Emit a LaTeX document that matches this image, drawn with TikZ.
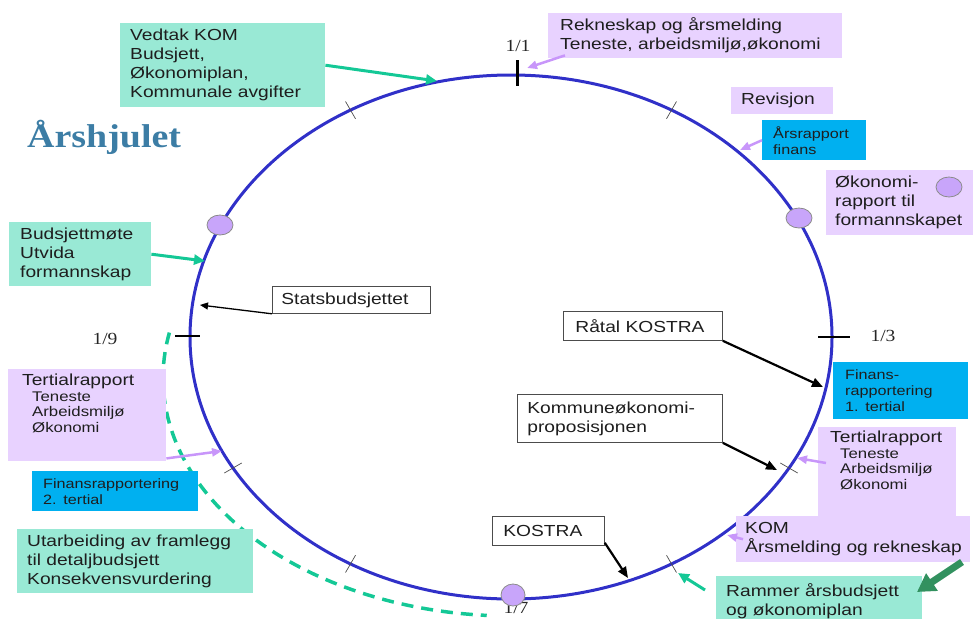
\documentclass[tikz,border=0pt]{standalone}
\usepackage{fontspec}
\usetikzlibrary{arrows.meta}
\newfontfamily\boxfont{Liberation Sans}[FakeStretch=1.2]
\newfontfamily\datefont{Liberation Serif}[FakeStretch=1.15]
\definecolor{mint}{RGB}{153,233,213}
\definecolor{lilac}{RGB}{232,210,255}
\definecolor{sky}{RGB}{0,176,240}
\definecolor{ring}{RGB}{48,48,200}
\definecolor{tealar}{RGB}{20,200,150}
\definecolor{lilacar}{RGB}{200,150,250}
\definecolor{deepgreen}{RGB}{50,145,95}
\definecolor{titleblue}{RGB}{60,125,165}
\definecolor{markfill}{RGB}{200,165,250}
\definecolor{txt}{RGB}{30,30,30}
\hyphenpenalty=10000
\exhyphenpenalty=10000
\begin{document}
\begin{tikzpicture}[x=1pt,y=-1pt,
  box/.style={anchor=north west, inner ysep=0pt, align=left, text=txt,
    font=\boxfont\fontsize{16}{19}\selectfont},
  mintbox/.style={box, fill=mint},
  lilacbox/.style={box, fill=lilac},
  skybox/.style={box, fill=sky, font=\boxfont\fontsize{13.5}{16}\selectfont},
  plainbox/.style={box, fill=white, draw=black!70, line width=0.8pt},
  datelabel/.style={inner sep=0pt, text=black!85, font=\datefont\fontsize{17}{17}\selectfont},
  tealarrow/.style={draw=tealar, line width=3pt, -{Triangle[length=11pt,width=10pt]}},
  lilacarrow/.style={draw=lilacar, line width=2.5pt, -{Triangle[length=10pt,width=8pt]}},
  blackarrow/.style={draw=black, line width=2.2pt, -{Triangle[length=11pt,width=9pt]}},
  thinarrow/.style={draw=black, line width=1.3pt, -{Triangle[length=8pt,width=7pt]}},
  marker/.style={fill=markfill, draw=black!45, line width=0.8pt},
  monthtick/.style={draw=black!70, line width=0.7pt},
  datetick/.style={draw=black, line width=3pt},
]
\useasboundingbox (0,0) rectangle (973,618);
\clip (0,0) rectangle (973,618);

% budget preparation period, dashed
\draw[tealar, line width=3.5pt, dash pattern=on 12pt off 8pt]
  plot[domain=169:266, samples=80] ({511+348*cos(\x)},{378-238*sin(\x)});

% the year wheel
\draw[ring, line width=3pt] (511,337) ellipse [x radius=321pt, y radius=262pt];
\foreach \a in {60,120,210,240,300,330}
  \draw[monthtick] ({511+311*cos(\a)},{337-252*sin(\a)}) -- ({511+331*cos(\a)},{337-272*sin(\a)});

% quarter dates
\draw[datetick] (517,60) -- (517,86);
\draw[datetick, line width=2.5pt] (818,337) -- (850,337);
\draw[datetick, line width=2.5pt] (175,336) -- (200,336);
\node[datelabel] (d1) at (518,46) {1/1};
\node[datelabel] (d3) at (883,336) {1/3};
\node[datelabel] (d9) at (105,339) {1/9};
\node[datelabel] (d7) at (516,608) {1/7};

% title
\node[anchor=base west, inner sep=0pt, text=titleblue,
  font=\datefont\bfseries\fontsize{33}{33}\selectfont] (title) at (27,147) {Årshjulet};

% boxes
\node[mintbox, minimum height=84pt, text width=185pt, inner xsep=10pt] (vedtak) at (120,23)
  {Vedtak KOM\\Budsjett,\\Økonomiplan,\\Kommunale avgifter};
\node[lilacbox, minimum height=45pt, text width=270pt, inner xsep=12pt] (rekneskap) at (548,13)
  {Rekneskap og årsmelding\\Teneste, arbeidsmiljø,økonomi};
\node[lilacbox, minimum height=27pt, text width=82pt, inner xsep=10pt] (revisjon) at (731,87)
  {Revisjon};
\node[skybox, minimum height=40pt, text width=82pt, inner xsep=11pt] (arsrapport) at (762,120)
  {Årsrapport\\finans};
\node[lilacbox, minimum height=65pt, text width=129pt, inner xsep=9pt] (okorapport) at (826,170)
  {Økonomi-\\rapport til\\formannskapet};
\node[mintbox, minimum height=64pt, text width=120pt, inner xsep=11pt] (budsjett) at (9,222)
  {Budsjettmøte\\Utvida\\formannskap};
\node[plainbox, minimum height=27pt, text width=140pt, inner xsep=9pt] (stats) at (272,286)
  {Statsbudsjettet};
\node[lilacbox, minimum height=92pt, text width=130pt, inner xsep=14pt] (tertL) at (8,369)
  {{\fontsize{16}{18}\selectfont Tertialrapport\par}
   {\fontsize{14}{15.5}\selectfont\leftskip=10pt Teneste\\Arbeidsmiljø\\Økonomi\rule[-24pt]{0pt}{0pt}\par}};
\node[skybox, minimum height=40pt, text width=144pt, inner xsep=11pt] (finans2) at (32,471)
  {Finansrapportering\\2. tertial};
\node[mintbox, minimum height=64pt, text width=216pt, inner xsep=10pt] (utarb) at (17,529)
  {Utarbeiding av framlegg\\til detaljbudsjett\\Konsekvensvurdering};
\node[plainbox, minimum height=29pt, text width=135pt, inner xsep=12pt] (ratal) at (563,311)
  {Råtal KOSTRA};
\node[skybox, minimum height=57pt, text width=111pt, inner xsep=12pt] (finans1) at (833,362)
  {Finans-\\rapportering\\1. tertial};
\node[plainbox, minimum height=48pt, text width=185pt, inner xsep=10pt] (kommune) at (517,394)
  {Kommuneøkonomi-\\proposisjonen};
\node[lilacbox, minimum height=90pt, text width=114pt, inner xsep=12pt] (tertR) at (818,427)
  {{\fontsize{16}{18}\selectfont Tertialrapport\par}
   {\fontsize{14}{15.5}\selectfont\leftskip=10pt Teneste\\Arbeidsmiljø\\Økonomi\rule[-24pt]{0pt}{0pt}\par}};
\node[plainbox, minimum height=29pt, text width=90pt, inner xsep=11pt] (kostra) at (492,516)
  {KOSTRA};
\node[lilacbox, minimum height=46pt, text width=216pt, inner xsep=9pt] (kom) at (736,516)
  {KOM\\\mbox{Årsmelding og rekneskap}};
\node[mintbox, minimum height=50pt, text width=186pt, inner xsep=10pt] (rammer) at (716,576)
  {Rammer årsbudsjett\\og økonomiplan};

% arrow targets on the wheel
\coordinate (vedtak-at) at (437,81);
\coordinate (rekneskap-at) at (527,68);
\coordinate (arsrapport-at) at (740,150);
\coordinate (budsjett-at) at (205,261);
\coordinate (stats-at) at (200,305);
\coordinate (tertL-at) at (222,451);
\coordinate (ratal-at) at (823,387);
\coordinate (kommune-at) at (777,470);
\coordinate (tertR-from) at (826,463);
\coordinate (tertR-at) at (797,458);
\coordinate (kostra-at) at (628,578);
\coordinate (kom-at) at (727,535);
\coordinate (rammer-from) at (705,590);
\coordinate (rammer-at) at (678,573);
\coordinate (push-from) at (962,562);
\coordinate (push-at) at (917,592);

% connectors
\draw[tealarrow] (vedtak.east) -- (vedtak-at);
\draw[tealarrow] (budsjett.east) -- (budsjett-at);
\draw[tealarrow] (rammer-from) -- (rammer-at);
\draw[lilacarrow] ([xshift=17pt,yshift=3pt]rekneskap.south west) -- (rekneskap-at);
\draw[lilacarrow] (arsrapport.west) -- (arsrapport-at);
\draw[lilacarrow] ([yshift=3pt]tertL.south east) -- (tertL-at);
\draw[lilacarrow] (tertR-from) -- (tertR-at);
\draw[lilacarrow] ([xshift=7pt]kom.west) -- (kom-at);
\draw[thinarrow] (stats.south west) -- (stats-at);
\draw[blackarrow] (ratal.south east) -- (ratal-at);
\draw[blackarrow] (kommune.south east) -- (kommune-at);
\draw[blackarrow] ([yshift=3pt]kostra.south east) -- (kostra-at);
\draw[deepgreen, line width=7pt, -{Triangle[length=18pt,width=20pt]}] (push-from) -- (push-at);

% report markers
\filldraw[marker] (220,225) ellipse [x radius=13pt, y radius=10pt];
\filldraw[marker] (799,218) ellipse [x radius=13pt, y radius=10pt];
\filldraw[marker] (513,595) ellipse [x radius=12pt, y radius=11pt];
\filldraw[marker] (949,187) ellipse [x radius=13pt, y radius=10pt];
\end{tikzpicture}
\end{document}
